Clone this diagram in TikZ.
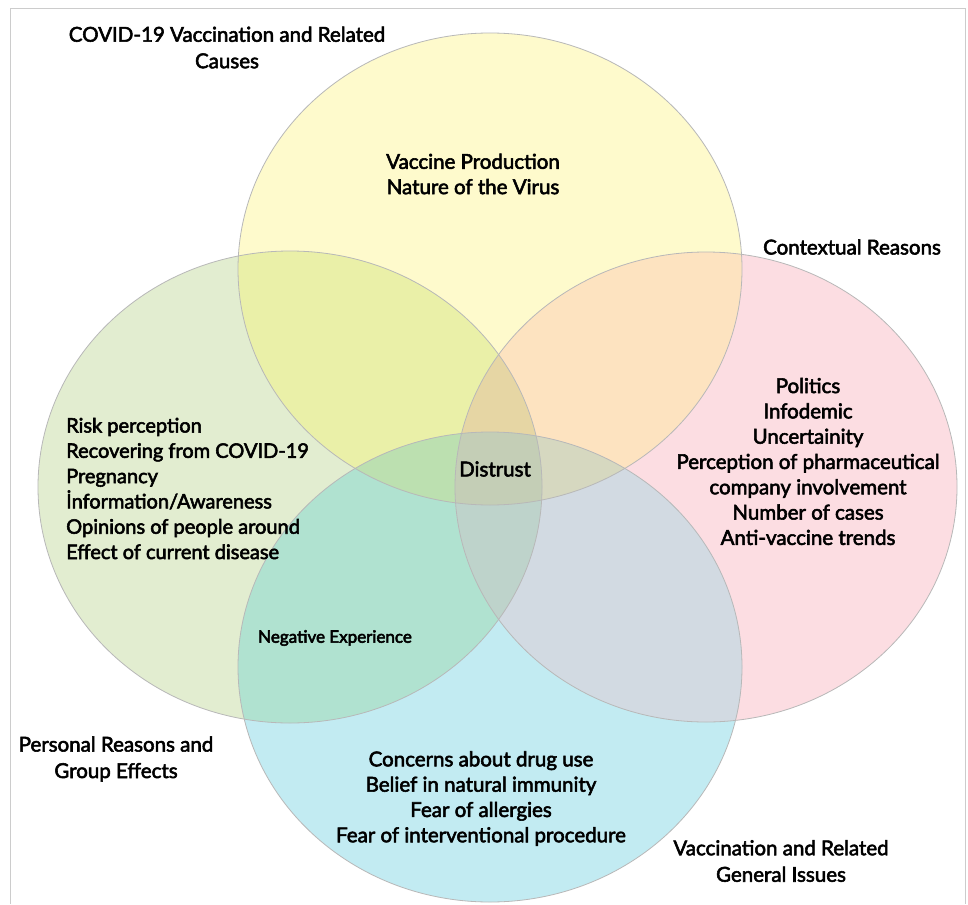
\documentclass[tikz,border=0pt]{standalone}
\usepackage{fontspec}
\setmainfont{Lato}
\begin{document}
\begin{tikzpicture}[x=1pt,y=-1pt,
  heavy/.style={execute at begin node={\special{pdf:literal direct 0 G 2 Tr 0.55 w}},
                execute at end node={\special{pdf:literal direct 0 Tr}}},
  lbl/.style={heavy,inner sep=0pt,align=center,font=\fontsize{20.5}{25.3}\selectfont},
  lblleft/.style={heavy,inner sep=0pt,align=left,font=\fontsize{20}{25.3}\selectfont},
  corner/.style={heavy,inner sep=0pt,align=center,font=\fontsize{20.5}{26.5}\selectfont},
  small/.style={heavy,inner sep=0pt,font=\fontsize{17}{20}\selectfont},
  rim/.style={draw=black!28,line width=0.8pt},
  frame/.style={draw=black!20,line width=1pt}]
\definecolor{cY}{HTML}{FEFACC}
\definecolor{cG}{HTML}{E2EDD0}
\definecolor{cP}{HTML}{FCDDE2}
\definecolor{cB}{HTML}{C2EBF2}
\definecolor{cYG}{HTML}{EAF0A8}
\definecolor{cYP}{HTML}{FDE3C0}
\definecolor{cGB}{HTML}{B0E2D0}
\definecolor{cPB}{HTML}{D2DAE2}
\definecolor{cYGP}{HTML}{E6D6A4}
\definecolor{cYGB}{HTML}{BCE0B0}
\definecolor{cYPB}{HTML}{D6D8C0}
\definecolor{cGPB}{HTML}{BED3CB}
\definecolor{cALL}{HTML}{C4CEB6}
\def\Yel{(490,269) ellipse [x radius=252pt, y radius=236pt]}
\def\Gel{(290,487) ellipse [x radius=252pt, y radius=236pt]}
\def\Pel{(706,487) ellipse [x radius=251pt, y radius=235pt]}
\def\Bel{(490,667) ellipse [x radius=252pt, y radius=235pt]}
\useasboundingbox (0,0) rectangle (968,904);
\fill[white] (0,0) rectangle (968,904);
% single sets
\fill[cY] \Yel;
\fill[cG] \Gel;
\fill[cP] \Pel;
\fill[cB] \Bel;
% pairs
\begin{scope}\clip \Yel; \fill[cYG] \Gel; \fill[cYP] \Pel; \end{scope}
\begin{scope}\clip \Bel; \fill[cGB] \Gel; \fill[cPB] \Pel; \end{scope}
% triples
\begin{scope}\clip \Yel; \clip \Gel; \fill[cYGP] \Pel; \fill[cYGB] \Bel; \end{scope}
\begin{scope}\clip \Pel; \clip \Bel; \fill[cYPB] \Yel; \fill[cGPB] \Gel; \end{scope}
% all four
\begin{scope}\clip \Yel; \clip \Gel; \clip \Pel; \fill[cALL] \Bel; \end{scope}
% rims
\draw[rim] \Yel;
\draw[rim] \Gel;
\draw[rim] \Pel;
\draw[rim] \Bel;
% frame
\draw[frame] (10,904) -- (10,9) -- (965,9) -- (965,904);
% labels
\node[corner] (tl) at (227,47.5) {COVID-19 Vaccination and Related\\Causes};
\node[corner] (tr) at (852,247) {Contextual Reasons};
\node[corner] (bl) at (116,759) {Personal Reasons and\\Group Effects};
\node[corner] (br) at (781,861) {Vaccination and Related\\General Issues};
\node[lbl] (yel) at (473,174) {Vaccine Production\\Nature of the Virus};
\node[lblleft,anchor=west] (grn) at (66,488.5) {Risk perception\\Recovering from COVID-19\\Pregnancy\\İnformation/Awareness\\Opinions of people around\\Effect of current disease};
\node[lbl] (pnk) at (808,461.5) {Politics\\Infodemic\\Uncertainity\\Perception of pharmaceutical\\company involvement\\Number of cases\\Anti-vaccine trends};
\node[lbl] (blu) at (481,798.5) {Concerns about drug use\\Belief in natural immunity\\Fear of allergies\\Fear of interventional procedure};
\node[lbl] (dis) at (495,469) {Distrust};
\node[small] (neg) at (335,638) {Negative Experience};
\end{tikzpicture}
\end{document}
